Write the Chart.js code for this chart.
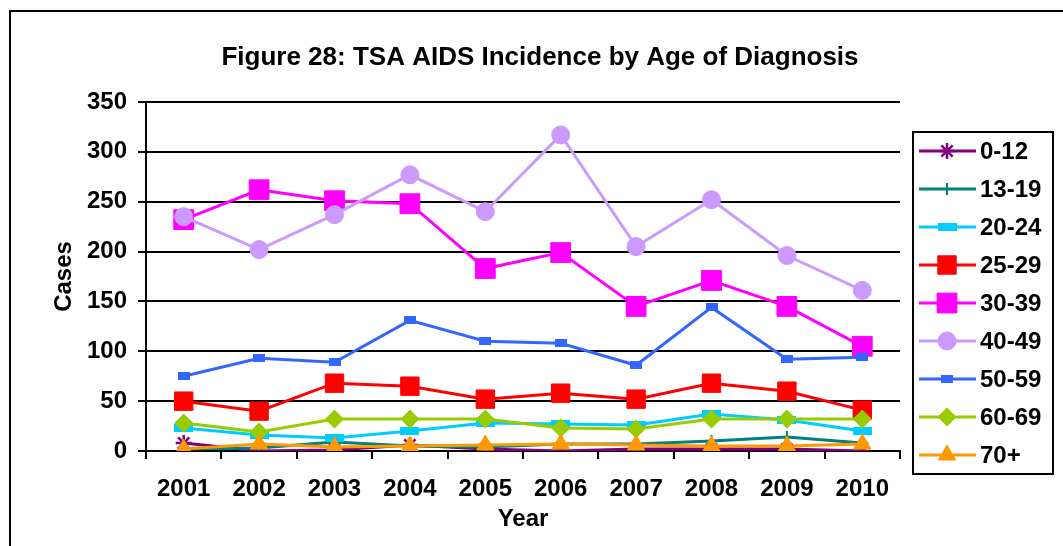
<!DOCTYPE html>
<html>
<head>
<meta charset="utf-8">
<script src="https://cdn.jsdelivr.net/npm/chart.js@4/dist/chart.umd.min.js"></script>
<style>
    html, body { margin: 0; padding: 0; background: #fff; }
    #wrap { width: 1063px; height: 546px; }
</style>
</head>
<body>
<div id="wrap"><canvas id="aidsChart"></canvas></div>
<script>
const years = ["2001", "2002", "2003", "2004", "2005", "2006", "2007", "2008", "2009", "2010"];

const age0to12 = [8, 0, 1, 6, 2, 0, 2, 2, 2, 0];
const age13to19 = [2, 3, 9, 5, 4, 7, 7, 10, 14, 8];
const age20to24 = [23, 16, 13, 20, 28, 27, 26, 37, 31, 20];
const age25to29 = [50, 40, 68, 65, 52, 58, 52, 68, 60, 41];
const age30to39 = [232, 262, 251, 248, 183, 199, 145, 171, 145, 105];
const age40to49 = [235, 202, 237, 277, 240, 317, 205, 252, 196, 161];
const age50to59 = [75, 93, 89, 131, 110, 108, 86, 144, 92, 94];
const age60to69 = [28, 19, 32, 32, 32, 23, 22, 32, 32, 32];
const age70plus = [2, 7, 4, 5, 6, 7, 6, 5, 5, 7];

const yTicks = [0, 50, 100, 150, 200, 250, 300, 350];

// small canvases for the flat rectangle markers
function rectMarker(w, h, color) {
    const c = document.createElement("canvas");
    c.width = w;
    c.height = h;
    const g = c.getContext("2d");
    g.fillStyle = color;
    g.fillRect(0, 0, w, h);
    return c;
}

function series(label, data, color, style, radius, borderWidth) {
    return {
        label,
        data,
        borderColor: color,
        backgroundColor: color,
        pointBackgroundColor: color,
        pointBorderColor: color,
        pointStyle: style,
        pointRadius: radius,
        pointBorderWidth: borderWidth,
        borderWidth: 3,
        tension: 0,
        fill: false
    };
}

const datasets = [
    series("0-12", age0to12, "#800080", "star", 8, 2.5),
    series("13-19", age13to19, "#008080", "cross", 6, 2),
    series("20-24", age20to24, "#00CCFF", rectMarker(19, 8, "#00CCFF"), 6, 0),
    series("25-29", age25to29, "#FF0000", "rect", 13, 1),
    series("30-39", age30to39, "#FF00FF", "rect", 14, 1),
    series("40-49", age40to49, "#CC99FF", "circle", 9, 1),
    series("50-59", age50to59, "#3366FF", rectMarker(12, 8, "#3366FF"), 6, 0),
    series("60-69", age60to69, "#99CC00", "rectRot", 9, 1),
    series("70+", age70plus, "#FF9900", "triangle", 10, 1)
];
// later series sit on top, like the original
datasets.forEach((d, i) => { d.order = datasets.length - 1 - i; });

const frame = {
    id: "frame",
    beforeDraw(chart) {
        const ctx = chart.ctx;
        ctx.save();
        ctx.fillStyle = "#fff";
        ctx.fillRect(0, 0, chart.width, chart.height);
        ctx.strokeStyle = "#000";
        ctx.lineWidth = 2;
        ctx.strokeRect(10, 11, 1100, 600);
        ctx.restore();
    }
};

// legend on the right: boxed, line sample with marker
const boxLegend = {
    id: "boxLegend",
    afterDraw(chart) {
        const ctx = chart.ctx;
        ctx.save();
        ctx.strokeStyle = "#000";
        ctx.lineWidth = 2;
        ctx.strokeRect(913, 132, 140, 342);
        chart.data.datasets.forEach((ds, i) => {
            const y = 151 + i * 38;
            ctx.strokeStyle = ds.borderColor;
            ctx.lineWidth = 3;
            ctx.beginPath();
            ctx.moveTo(919, y);
            ctx.lineTo(976, y);
            ctx.stroke();
            ctx.fillStyle = ds.pointBackgroundColor;
            ctx.strokeStyle = ds.pointBorderColor;
            ctx.lineWidth = ds.pointBorderWidth;
            if (Chart.helpers && Chart.helpers.drawPoint) {
                Chart.helpers.drawPoint(ctx, {
                    pointStyle: ds.pointStyle,
                    radius: ds.pointRadius,
                    rotation: 0,
                    borderWidth: ds.pointBorderWidth
                }, 947, y);
            }
            ctx.fillStyle = "#000";
            ctx.font = "bold 24px 'Liberation Sans', Arial, sans-serif";
            ctx.textAlign = "left";
            ctx.textBaseline = "middle";
            ctx.fillText(ds.label, 980, y + 1);
        });
        ctx.restore();
    }
};

Chart.defaults.font.family = "'Liberation Sans', Arial, sans-serif";
Chart.defaults.color = "#000";

const axisFont = { size: 24, weight: "bold" };

const ctx = document.getElementById("aidsChart").getContext("2d");

new Chart(ctx, {
    type: "line",
    data: { labels: years, datasets },
    options: {
        responsive: true,
        maintainAspectRatio: false,
        animation: false,
        layout: { padding: { left: 17, right: 0, top: 0, bottom: 0 } },
        plugins: {
            legend: { display: false },
            tooltip: { enabled: false },
            title: {
                display: true,
                text: "Figure 28: TSA AIDS Incidence by Age of Diagnosis",
                color: "#000",
                font: { size: 26, weight: "bold" },
                padding: { top: 42, bottom: 28.8 }
            }
        },
        scales: {
            x: {
                offset: true,
                grid: {
                    offset: true,
                    drawOnChartArea: false,
                    drawTicks: true,
                    tickLength: 8,
                    color: "#000",
                    lineWidth: 2
                },
                border: { display: true, color: "#000", width: 2 },
                ticks: { color: "#000", font: axisFont, padding: 16, maxRotation: 0 },
                title: {
                    display: true,
                    text: "Year",
                    color: "#000",
                    font: axisFont,
                    padding: { top: 0, bottom: 12 }
                },
                afterFit: (scale) => { scale.height = 95; }
            },
            y: {
                min: 0,
                max: 350,
                afterBuildTicks: (scale) => {
                    scale.ticks = yTicks.map(v => ({ value: v }));
                },
                grid: {
                    color: "#000",
                    lineWidth: 2,
                    drawTicks: true,
                    tickLength: 8
                },
                border: { display: true, color: "#000", width: 2 },
                ticks: { color: "#000", font: axisFont, padding: 11 },
                title: {
                    display: true,
                    text: "Cases",
                    color: "#000",
                    font: axisFont,
                    padding: { top: 33, bottom: 0 }
                },
                afterFit: (scale) => { scale.width = 129; }
            },
            legendSpace: {
                position: "right",
                display: true,
                grid: { display: false },
                border: { display: false },
                ticks: { display: false },
                afterFit: (scale) => { scale.width = 163; }
            }
        }
    },
    plugins: [frame, boxLegend]
});
</script>
</body>
</html>
